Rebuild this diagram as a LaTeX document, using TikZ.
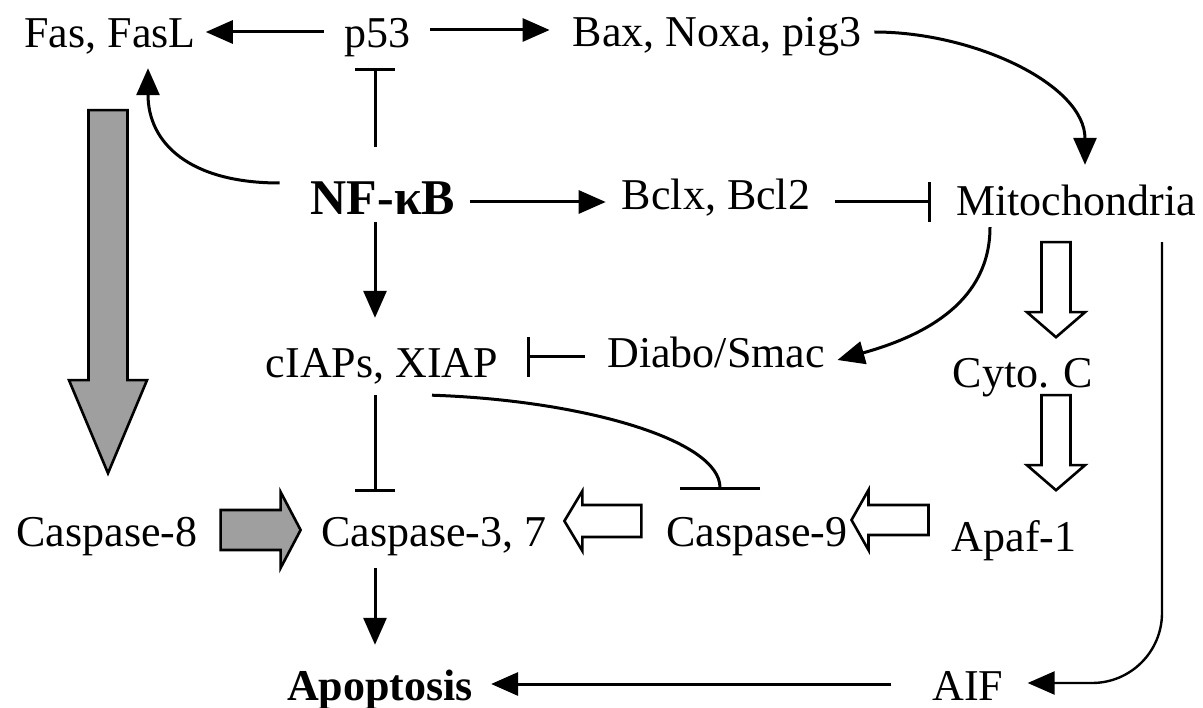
\documentclass[tikz,border=0pt]{standalone}
\usepackage{fontspec}
\setmainfont{Liberation Serif}
\usetikzlibrary{arrows.meta}
\begin{document}
\begin{tikzpicture}[x=1pt,y=1pt,
  lbl/.style={font=\fontsize{44}{50}\selectfont, inner sep=0pt, anchor=base, text height=31pt, text depth=7pt},
  boldlbl/.style={lbl, font=\fontsize{44}{50}\selectfont\bfseries},
  arr/.style={line width=3pt, -{Triangle[length=27pt,width=23pt]}},
  tee/.style={line width=3pt, -{Bar[width=40pt]}},
  blk/.style={line width=2.6pt, line join=miter, draw=black},
  pics/barrow/.style n args={4}{code={
    \draw[pic actions] (0,-#2/2) -- (#1-#4,-#2/2) -- (#1-#4,-#3/2) -- (#1,0)
      -- (#1-#4,#3/2) -- (#1-#4,#2/2) -- (0,#2/2) -- cycle;}}
]
\fill[white] (0,0) rectangle (1203,-708);
\useasboundingbox (0,0) rectangle (1203,-708);

% nodes
\node[lbl] (fas) at (110,-48) {Fas, FasL};
\node[lbl] (p53) at (377,-48) {p53};
\node[lbl] (bax) at (717,-47) {Bax, Noxa, pig3};
\node[lbl, font=\fontsize{50}{56}\selectfont\bfseries, text height=34pt] (nf) at (383,-215) {NF-κB};
\node[lbl] (bclx) at (716,-210) {Bclx, Bcl2};
\node[lbl] (mito) at (1076,-216) {Mitochondria};
\node[lbl] (ciap) at (382,-378) {cIAPs, XIAP};
\node[lbl] (diabo) at (716,-368) {Diabo/Smac};
\node[lbl] (cyto) at (1023,-388) {Cyto. C};
\node[lbl] (casp8) at (107,-547) {Caspase-8};
\node[lbl] (casp37) at (434,-547) {Caspase-3, 7};
\node[lbl] (casp9) at (757,-547) {Caspase-9};
\node[lbl] (apaf) at (1014,-551) {Apaf-1};
\node[boldlbl] (apop) at (380,-700) {Apoptosis};
\node[lbl] (aif) at (968,-700) {AIF};

% connectors
\draw[arr] ([xshift=-20pt,yshift=4pt]p53.west) -- ([xshift=10pt,yshift=4pt]fas.east);
\draw[arr] ([xshift=20pt,yshift=6pt]p53.east) -- ([xshift=-23pt,yshift=5pt]bax.west);
\draw[arr] ([xshift=13pt,yshift=3pt]bax.east) .. controls +(100,0) and +(0,80) .. ([xshift=9pt,yshift=20pt]mito.north);
\draw[tee] ([xshift=-8pt,yshift=34pt]nf.north) -- ([xshift=-2pt,yshift=-13pt]p53.south);
\draw[arr] ([xshift=-31pt,yshift=18.5pt]nf.west) .. controls +(-90,0) and +(0,-75) .. ([xshift=38pt,yshift=-13pt]fas.south);
\draw[arr] ([xshift=15pt,yshift=-0.5pt]nf.east) -- ([xshift=-16pt,yshift=-4pt]bclx.west);
\draw[tee] ([xshift=25pt,yshift=-4pt]bclx.east) -- ([xshift=-25pt,yshift=2pt]mito.west);
\draw[arr] ([xshift=-8pt]nf.south) -- ([xshift=-7pt,yshift=29pt]ciap.north);
\draw[tee] ([xshift=-22pt,yshift=-1pt]diabo.west) -- ([xshift=28.5pt,yshift=9pt]ciap.east);
\draw[arr] ([xshift=-86pt,yshift=-4pt]mito.south) .. controls +(0,-73) and +(90,25) .. ([xshift=12.5pt,yshift=-4pt]diabo.east);
\draw[tee] ([xshift=-7pt,yshift=-10pt]ciap.south) -- ([xshift=-59pt,yshift=24pt]casp37.north);
\draw[line width=3pt, -{Bar[width=80pt]}] ([xshift=50pt,yshift=-10pt]ciap.south) .. controls +(150,-5) and +(0,50) .. ([xshift=-37pt,yshift=26pt]casp9.north);
\draw[arr] ([xshift=-59pt,yshift=-14pt]casp37.south) -- ([xshift=-5pt,yshift=24pt]apop.north);
\draw[arr] ([xshift=-41pt,yshift=4pt]aif.west) -- ([xshift=18pt,yshift=4pt]apop.east);
\draw[arr, line width=2.4pt, rounded corners=70pt] ([xshift=86pt,yshift=-19pt]mito.south) |- ([xshift=24pt,yshift=5pt]aif.east);

% block arrows
\pic[blk, fill=white, rotate=-90] at ([xshift=-20pt,yshift=-19pt]mito.south) {barrow={95}{29}{58}{25}};
\pic[blk, fill=white, rotate=-90] at ([xshift=33pt]cyto.south) {barrow={95}{29}{58}{25}};
\pic[blk, fill=white, rotate=180] at ([xshift=-23pt,yshift=19pt]apaf.west) {barrow={77}{30}{60}{17}};
\pic[blk, fill=white, rotate=180] at ([xshift=-25pt,yshift=14pt]casp9.west) {barrow={77}{32}{60}{18}};
\pic[blk, fill=gray!75] at ([xshift=23pt,yshift=5pt]casp8.east) {barrow={80}{40}{76}{20}};
\pic[blk, fill=gray!75, rotate=-90] at ([xshift=-2pt,yshift=-55pt]fas.south) {barrow={363}{39}{78}{93}};
\end{tikzpicture}
\end{document}
